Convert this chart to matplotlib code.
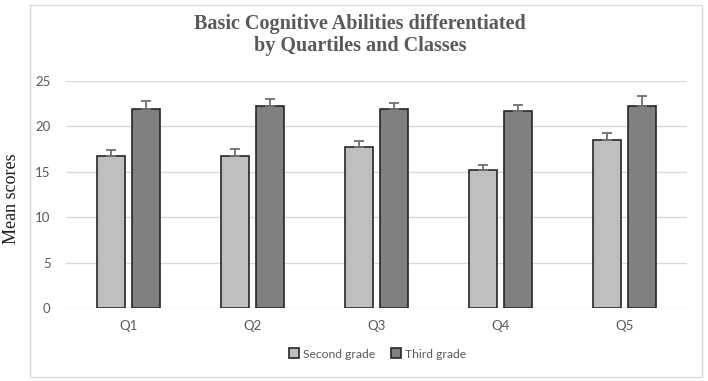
import matplotlib
matplotlib.use("Agg")
import matplotlib.pyplot as plt
import numpy as np
from matplotlib.patches import Rectangle

categories = ["Q1", "Q2", "Q3", "Q4", "Q5"]
second_grade = [16.7, 16.75, 17.75, 15.2, 18.55]
third_grade = [21.9, 22.25, 21.9, 21.75, 22.25]
second_err = [0.75, 0.75, 0.6, 0.6, 0.75]
third_err = [0.9, 0.8, 0.7, 0.65, 1.05]
series_names = ["Second grade", "Third grade"]
yticks = [0, 5, 10, 15, 20, 25]

fig = plt.figure(figsize=(7.08, 3.81), dpi=100)
ax = fig.add_axes([66/708, 1-308/381, (687-66)/708, (308-81)/381])

x = np.arange(len(categories))
w = 0.226
off = 0.141
ec = "#262626"
errkw = dict(ecolor="#707070", elinewidth=1.3, capsize=3.5, capthick=1.3)
ax.bar(x - off, second_grade, w, color="#bfbfbf", edgecolor=ec, linewidth=1.2,
       yerr=[np.zeros(5), second_err], error_kw=errkw, label=series_names[0], zorder=3)
ax.bar(x + off, third_grade, w, color="#808080", edgecolor=ec, linewidth=1.2,
       yerr=[np.zeros(5), third_err], error_kw=errkw, label=series_names[1], zorder=3)

ax.set_xlim(-0.5, len(categories) - 0.5)
ax.set_ylim(0, 25)
ax.set_yticks(yticks)
ax.set_xticks(x)
ax.set_xticklabels(categories)
ax.yaxis.grid(True, color="#d9d9d9", linewidth=1.0, zorder=0)
ax.set_axisbelow(True)
for s in ax.spines.values():
    s.set_visible(False)
ax.tick_params(axis="both", length=0, labelsize=9.5, labelcolor="#595959", pad=11)
ax.tick_params(axis="x", pad=9)
for lab in ax.get_xticklabels() + ax.get_yticklabels():
    lab.set_fontfamily("Lato")

fig.text(12/708, 1-199/381, "Mean scores", rotation=90, ha="center", va="center",
         fontsize=13, family="Liberation Serif", color="#1a1a1a")
fig.text(0.5 + 6/708, 1-35/381, "Basic Cognitive Abilities differentiated\nby Quartiles and Classes",
         ha="center", va="center", fontsize=14.5, family="Liberation Serif",
         fontweight="bold", color="#595959", linespacing=1.15)

leg = ax.legend(loc="center", bbox_to_anchor=(0.5 + 1/621, (1-354/381 - (1-308/381)) / ((308-81)/381)),
                ncol=2, frameon=False, handlelength=0.85, handleheight=0.85,
                handletextpad=0.3, columnspacing=1.3, prop={"family": "Lato", "size": 8.7})
for t in leg.get_texts():
    t.set_color("#595959")

fig.patches.append(Rectangle((30/708, 1-377/381), (702-30)/708, (377-5)/381,
                             transform=fig.transFigure, fill=False,
                             edgecolor="#d9d9d9", linewidth=1.0))

fig.savefig("out.png", dpi=100)
